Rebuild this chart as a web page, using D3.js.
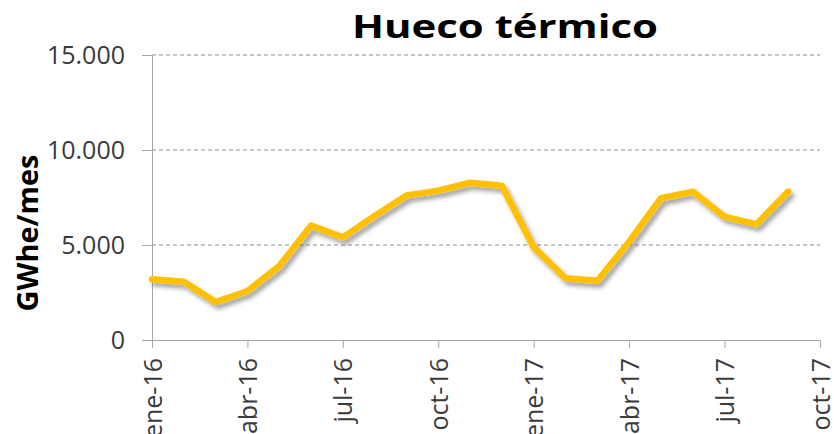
<!DOCTYPE html>
<html>
<head>
<meta charset="utf-8">
<script src="https://cdn.jsdelivr.net/npm/d3@7"></script>
<style>
  html, body { margin: 0; padding: 0; background: #fff; }
  svg { display: block; }
  text { font-family: "Open Sans", "DejaVu Sans", sans-serif; }
</style>
</head>
<body>
<div id="chart"></div>
<script>
// datos mensuales (GWhe/mes)
var months = ["ene-16", "feb-16", "mar-16", "abr-16", "may-16", "jun-16", "jul-16",
  "ago-16", "sep-16", "oct-16", "nov-16", "dic-16", "ene-17", "feb-17", "mar-17",
  "abr-17", "may-17", "jun-17", "jul-17", "ago-17", "sep-17"];
var huecoTermico = [3200, 3070, 2000, 2580, 3890, 6020, 5400, 6530, 7610, 7860, 8280,
  8120, 4880, 3250, 3120, 5170, 7460, 7810, 6490, 6090, 7810];
var xTickLabels = ["ene-16", "abr-16", "jul-16", "oct-16", "ene-17", "abr-17", "jul-17", "oct-17"];
var yTicks = [0, 5000, 10000, 15000];

var width = 834, height = 434;
var plotLeft = 152, plotRight = 820, plotTop = 55, plotBottom = 340;

var svg = d3.select("#chart").append("svg")
  .attr("width", width).attr("height", height);

// sombra de la linea
var filter = svg.append("defs").append("filter")
  .attr("id", "shadow").attr("x", "-10%").attr("y", "-20%")
  .attr("width", "130%").attr("height", "150%");
filter.append("feDropShadow")
  .attr("dx", 3).attr("dy", 4).attr("stdDeviation", 2.2)
  .attr("flood-color", "#000").attr("flood-opacity", 0.35);

// indice de mes -> x (eje de fechas por meses, oct-17 = 21)
var x = d3.scaleLinear().domain([0, 21]).range([plotLeft, plotRight]);
var y = d3.scaleLinear().domain([0, 15000]).range([plotBottom, plotTop]);

var es = d3.formatLocale({ decimal: ",", thousands: ".", grouping: [3], currency: ["", " €"] });
var fmt = es.format(",");

// lineas de division
svg.append("g").selectAll("line")
  .data(yTicks.filter(function(d) { return d > 0; }))
  .enter().append("line")
  .attr("x1", plotLeft).attr("x2", plotRight)
  .attr("y1", function(d) { return y(d); })
  .attr("y2", function(d) { return y(d); })
  .attr("stroke", "#8c8c8c").attr("stroke-width", 1)
  .attr("stroke-dasharray", "4,3");

// eje Y
var yAxis = svg.append("g").attr("transform", "translate(" + plotLeft + ",0)")
  .call(d3.axisLeft(y).tickValues(yTicks).tickFormat(fmt)
    .tickSize(10).tickSizeOuter(0).tickPadding(17));
yAxis.selectAll("path, line").attr("stroke", "#a6a6a6");
yAxis.selectAll("text")
  .attr("font-size", 25).attr("fill", "#3a3a3a")
  .attr("font-family", "Open Sans, sans-serif");

// eje X
var xAxis = svg.append("g").attr("transform", "translate(0," + plotBottom + ")")
  .call(d3.axisBottom(x).tickValues(d3.range(0, 22, 3))
    .tickFormat(function(d, i) { return xTickLabels[i]; })
    .tickSize(8).tickSizeOuter(0));
xAxis.selectAll("path, line").attr("stroke", "#a6a6a6");
xAxis.selectAll("text")
  .attr("transform", "rotate(-90)")
  .attr("x", -18).attr("y", 0).attr("dy", "0.36em")
  .attr("text-anchor", "end")
  .attr("font-size", 25).attr("fill", "#3a3a3a")
  .attr("font-family", "Open Sans, sans-serif");

// serie
var line = d3.line()
  .x(function(d, i) { return x(i); })
  .y(function(d) { return y(d); });
svg.append("path")
  .datum(huecoTermico)
  .attr("d", line)
  .attr("fill", "none")
  .attr("stroke", "#ffc000")
  .attr("stroke-width", 6.5)
  .attr("stroke-linejoin", "round")
  .attr("stroke-linecap", "round")
  .attr("filter", "url(#shadow)");

// titulo
svg.append("text")
  .attr("x", 505).attr("y", 38)
  .attr("text-anchor", "middle")
  .attr("font-size", 33).attr("font-weight", "bold").attr("fill", "#000")
  .attr("textLength", 306).attr("lengthAdjust", "spacingAndGlyphs")
  .text("Hueco térmico");

// titulo del eje Y
svg.append("text")
  .attr("transform", "translate(38,233) rotate(-90)")
  .attr("text-anchor", "middle")
  .attr("font-size", 28).attr("font-weight", "bold").attr("fill", "#000")
  .attr("textLength", 157).attr("lengthAdjust", "spacingAndGlyphs")
  .text("GWhe/mes");
</script>
</body>
</html>
